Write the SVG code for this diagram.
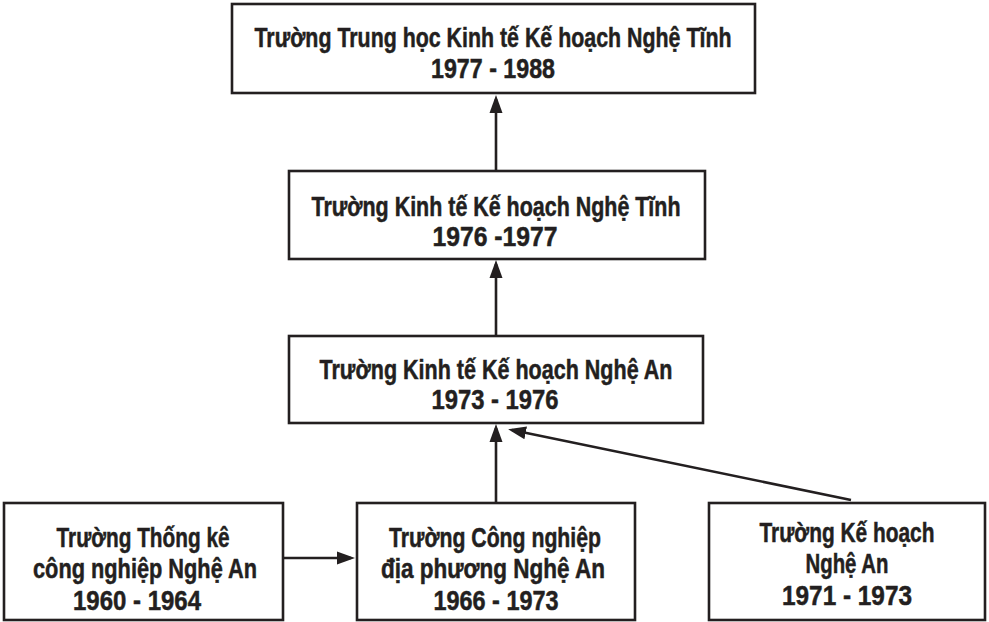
<svg xmlns="http://www.w3.org/2000/svg" width="989" height="622" viewBox="0 0 989 622">
<style>
.box{fill:#fff;stroke:#231f20;stroke-width:2.6}
.t{font-family:"Liberation Sans",Arial,sans-serif;font-weight:bold;font-size:27px;fill:#231f20;stroke:#231f20;stroke-width:0.5;text-anchor:middle}
.c{stroke:#231f20;stroke-width:2.6;fill:none;marker-end:url(#ah)}
</style>
<defs>
<marker id="ah" markerUnits="userSpaceOnUse" markerWidth="20" markerHeight="14" refX="14" refY="7" orient="auto" viewBox="0 0 20 14">
<path d="M0,0.5 L18,7 L0,13.5 z" fill="#231f20"/>
</marker>
</defs>
<rect width="989" height="622" fill="#fff"/>
<g id="connectors">
<line class="c" x1="496" y1="171" x2="496" y2="99"/>
<line class="c" x1="496" y1="336" x2="496" y2="264"/>
<line class="c" x1="496" y1="503" x2="496" y2="428"/>
<line class="c" x1="851" y1="500" x2="512" y2="430"/>
<line class="c" x1="283" y1="558" x2="351" y2="558"/>
</g>
<g id="n1">
<rect class="box" x="232" y="4" width="523" height="89"/>
<text class="t" x="493" y="47" textLength="477" lengthAdjust="spacingAndGlyphs">Trường Trung học Kinh tế Kế hoạch Nghệ Tĩnh</text>
<text class="t" x="493" y="78" textLength="124" lengthAdjust="spacingAndGlyphs">1977 - 1988</text>
</g>
<g id="n2">
<rect class="box" x="289" y="171" width="416" height="88"/>
<text class="t" x="496" y="216" textLength="369" lengthAdjust="spacingAndGlyphs">Trường Kinh tế Kế hoạch Nghệ Tĩnh</text>
<text class="t" x="495" y="246" textLength="125" lengthAdjust="spacingAndGlyphs">1976 -1977</text>
</g>
<g id="n3">
<rect class="box" x="289" y="336" width="414" height="87"/>
<text class="t" x="496" y="379" textLength="353" lengthAdjust="spacingAndGlyphs">Trường Kinh tế Kế hoạch Nghệ An</text>
<text class="t" x="495" y="409" textLength="127" lengthAdjust="spacingAndGlyphs">1973 - 1976</text>
</g>
<g id="n4">
<rect class="box" x="4" y="503" width="279" height="117"/>
<text class="t" x="143" y="547" textLength="173" lengthAdjust="spacingAndGlyphs">Trường Thống kê</text>
<text class="t" x="145" y="578" textLength="224" lengthAdjust="spacingAndGlyphs">công nghiệp Nghệ An</text>
<text class="t" x="137" y="610" textLength="128" lengthAdjust="spacingAndGlyphs">1960 - 1964</text>
</g>
<g id="n5">
<rect class="box" x="357" y="503" width="278" height="117"/>
<text class="t" x="495" y="547" textLength="212" lengthAdjust="spacingAndGlyphs">Trường Công nghiệp</text>
<text class="t" x="493" y="578" textLength="224" lengthAdjust="spacingAndGlyphs">địa phương Nghệ An</text>
<text class="t" x="496" y="610" textLength="125" lengthAdjust="spacingAndGlyphs">1966 - 1973</text>
</g>
<g id="n6">
<rect class="box" x="709" y="503" width="276" height="117"/>
<text class="t" x="847" y="542" textLength="175" lengthAdjust="spacingAndGlyphs">Trường Kế hoạch</text>
<text class="t" x="847" y="573" textLength="83" lengthAdjust="spacingAndGlyphs">Nghệ An</text>
<text class="t" x="847" y="605" textLength="130" lengthAdjust="spacingAndGlyphs">1971 - 1973</text>
</g>
</svg>
